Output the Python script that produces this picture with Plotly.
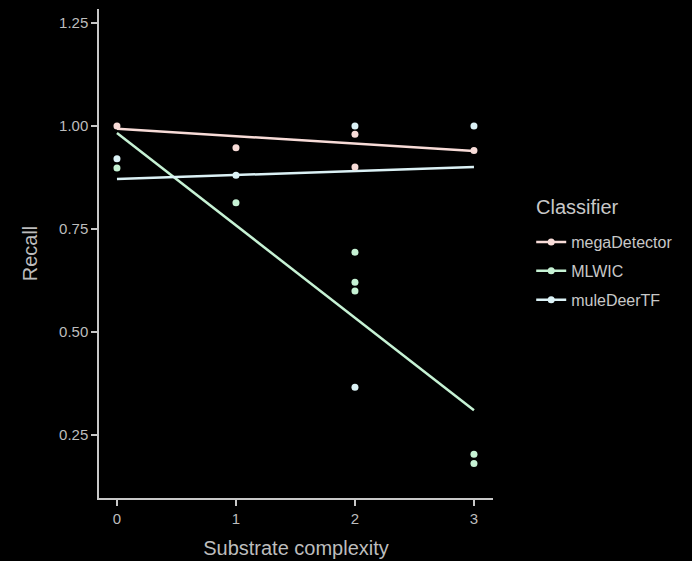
import plotly.graph_objects as go

# Data
complexity_mega = [0, 1, 2, 2, 3]
recall_mega = [1.00, 0.947, 0.98, 0.90, 0.94]

complexity_mlwic = [0, 1, 2, 2, 2, 3, 3]
recall_mlwic = [0.898, 0.813, 0.693, 0.62, 0.599, 0.202, 0.18]

complexity_mule = [0, 1, 2, 2, 3]
recall_mule = [0.92, 0.88, 1.00, 0.365, 1.00]

# Linear fit lines (endpoints)
fit_x = [0, 3]
fit_mega = [0.993, 0.939]
fit_mlwic = [0.983, 0.309]
fit_mule = [0.871, 0.900]

x_ticks = [0, 1, 2, 3]
y_ticks = [0.25, 0.50, 0.75, 1.00, 1.25]
y_tick_labels = ["0.25", "0.50", "0.75", "1.00", "1.25"]

names = ["megaDetector", "MLWIC", "muleDeerTF"]
colors = ["#f8dcd8", "#c6f2d4", "#dcf2f6"]

series = [
    (complexity_mega, recall_mega, fit_mega),
    (complexity_mlwic, recall_mlwic, fit_mlwic),
    (complexity_mule, recall_mule, fit_mule),
]

fig = go.Figure()
for (xs, ys, fy), name, col in zip(series, names, colors):
    fig.add_trace(go.Scatter(x=fit_x, y=fy, mode="lines",
                             line=dict(color=col, width=2.5),
                             showlegend=False, hoverinfo="skip"))
for (xs, ys, fy), name, col in zip(series, names, colors):
    fig.add_trace(go.Scatter(x=xs, y=ys, mode="markers",
                             marker=dict(color=col, size=7),
                             showlegend=False, name=name))
for name, col in zip(names, colors):
    fig.add_trace(go.Scatter(x=[None], y=[None], mode="lines+markers",
                             line=dict(color=col, width=2.5),
                             marker=dict(color=col, size=7),
                             name=name, legendgroup=name))

axis_col = "#c8c8c8"
text_col = "#bdbdbd"
fig.update_layout(
    width=692, height=561,
    paper_bgcolor="black", plot_bgcolor="black",
    margin=dict(l=99, r=199, t=9, b=63),
    font=dict(family="Liberation Sans, Arial, sans-serif", color=text_col),
    showlegend=True,
    legend=dict(
        x=1.097, y=0.558, xanchor="left", yanchor="top",
        font=dict(size=16, color="#c8c8c8"),
        tracegroupgap=5, bgcolor="rgba(0,0,0,0)",
        itemwidth=30,
    ),
    annotations=[dict(
        text="Classifier", x=1.104, y=0.595, xref="paper", yref="paper",
        xanchor="left", yanchor="middle", showarrow=False,
        font=dict(size=20, color="#c8c8c8"),
    )],
    xaxis=dict(
        range=[-0.151, 3.16], tickvals=x_ticks, ticktext=[str(v) for v in x_ticks],
        showgrid=False, zeroline=False, showline=True, linecolor=axis_col, linewidth=1.5,
        ticks="outside", ticklen=6, tickcolor=axis_col, tickwidth=1.5,
        tickfont=dict(size=15, color=text_col), automargin=False,
        title=dict(text="Substrate complexity", font=dict(size=20, color=text_col), standoff=15),
    ),
    yaxis=dict(
        range=[0.096, 1.284], tickvals=y_ticks, ticktext=y_tick_labels,
        showgrid=False, zeroline=False, showline=True, linecolor=axis_col, linewidth=1.5,
        ticks="outside", ticklen=6, tickcolor=axis_col, tickwidth=1.5,
        tickfont=dict(size=15, color=text_col), automargin=False,
        title=dict(text="Recall", font=dict(size=20, color=text_col), standoff=16),
    ),
)

fig.write_html("out.html")
